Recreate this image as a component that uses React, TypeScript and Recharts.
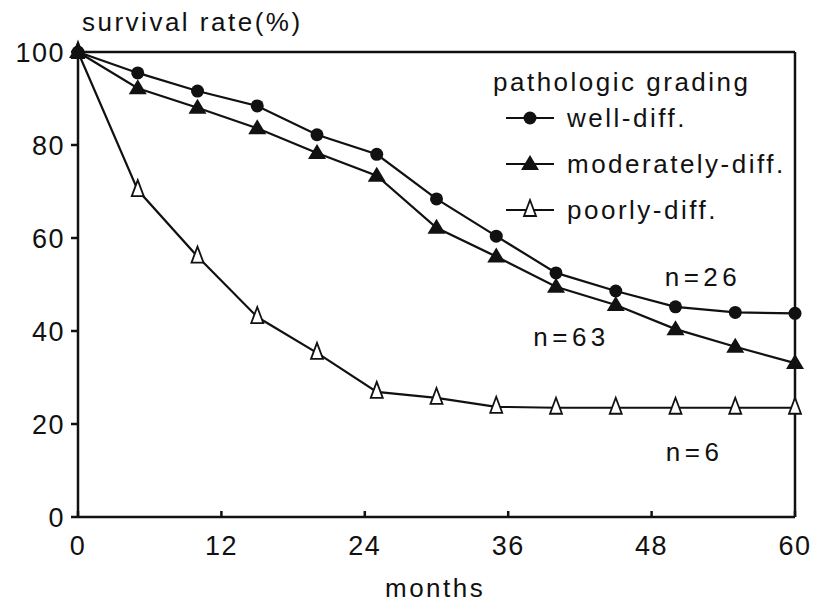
import {
  Line,
  LineChart,
  ReferenceDot,
  ReferenceLine,
  XAxis,
  YAxis,
} from "recharts";

const INK = "#111";
const FONT = "'Liberation Sans', Arial, sans-serif";

const months = [0, 5, 10, 15, 20, 25, 30, 35, 40, 45, 50, 55, 60];
const wellDiff = [100, 95.5, 91.6, 88.4, 82.2, 78, 68.4, 60.4, 52.5, 48.6, 45.2, 44, 43.8];
const moderatelyDiff = [100, 92.2, 88, 83.6, 78.3, 73.4, 62.2, 56, 49.5, 45.6, 40.4, 36.6, 33.1];
const poorlyDiff = [100, 70.3, 56, 43, 35.3, 26.9, 25.6, 23.7, 23.5, 23.5, 23.5, 23.5, 23.5];

const xTicks = [0, 12, 24, 36, 48, 60];
const yTicks = [0, 20, 40, 60, 80, 100];

const seriesNames = ["well-diff.", "moderately-diff.", "poorly-diff."];

// group sizes written next to the curves
const notes = [
  { month: 52.3, value: 51.6, text: "n=26" },
  { month: 41.3, value: 38.7, text: "n=63" },
  { month: 51.6, value: 14, text: "n=6" },
];

const data = months.map((m, i) => ({
  month: m,
  well: wellDiff[i],
  moderate: moderatelyDiff[i],
  poor: poorlyDiff[i],
}));

type DotProps = { cx?: number; cy?: number };

function Circle({ cx, cy }: DotProps) {
  if (cx == null || cy == null) return null;
  return <circle cx={cx} cy={cy} r={6.5} fill={INK} />;
}

function FilledTri({ cx, cy }: DotProps) {
  if (cx == null || cy == null) return null;
  return (
    <path
      d={`M${cx},${cy - 9} L${cx + 9},${cy + 6} L${cx - 9},${cy + 6} Z`}
      fill={INK}
    />
  );
}

function OpenTri({ cx, cy }: DotProps) {
  if (cx == null || cy == null) return null;
  return (
    <path
      d={`M${cx},${cy - 10} L${cx + 6},${cy + 6} L${cx - 6},${cy + 6} Z`}
      fill="#fff"
      stroke={INK}
      strokeWidth={1.8}
    />
  );
}

const markers = [Circle, FilledTri, OpenTri];

const textStyle = {
  fontFamily: FONT,
  color: INK,
  fontSize: 26,
  letterSpacing: 2.5,
  lineHeight: 1,
  whiteSpace: "nowrap" as const,
};

function LegendBox() {
  return (
    <div style={{ ...textStyle, position: "absolute", left: 493, top: 69 }}>
      <div style={{ height: 26 }}>pathologic grading</div>
      {seriesNames.map((name, i) => {
        const M = markers[i];
        return (
          <div
            key={name}
            style={{ display: "flex", alignItems: "center", height: 46 }}
          >
            <svg width={50} height={24} style={{ marginLeft: 13, marginRight: 11 }}>
              <line x1={0} x2={48} y1={12} y2={12} stroke={INK} strokeWidth={2.2} />
              <M cx={24} cy={12} />
            </svg>
            <span>{name}</span>
          </div>
        );
      })}
    </div>
  );
}

export default function App() {
  return (
    <div
      style={{
        position: "absolute",
        left: 0,
        top: 0,
        width: 826,
        height: 604,
        background: "#fff",
        fontFamily: FONT,
      }}
    >
      <LineChart
        width={826}
        height={604}
        data={data}
        margin={{ top: 52, right: 31, bottom: 47, left: 18 }}
      >
        <XAxis
          dataKey="month"
          type="number"
          domain={[0, 60]}
          ticks={xTicks}
          height={40}
          stroke={INK}
          strokeWidth={2.5}
          tickSize={-6}
          tickMargin={25}
          tick={{ fill: INK, fontSize: 27, fontFamily: FONT, letterSpacing: 1.5 }}
        />
        <YAxis
          type="number"
          domain={[0, 100]}
          ticks={yTicks}
          width={60}
          stroke={INK}
          strokeWidth={2.5}
          tickSize={7}
          tickMargin={6}
          tick={{ fill: INK, fontSize: 27, fontFamily: FONT, letterSpacing: 1.5 }}
        />
        <ReferenceLine y={100} stroke={INK} strokeWidth={2.5} />
        <ReferenceLine x={60} stroke={INK} strokeWidth={2.5} />
        <Line
          dataKey="poor"
          stroke={INK}
          strokeWidth={2.2}
          dot={<OpenTri />}
          isAnimationActive={false}
        />
        <Line
          dataKey="moderate"
          stroke={INK}
          strokeWidth={2.2}
          dot={<FilledTri />}
          isAnimationActive={false}
        />
        <Line
          dataKey="well"
          stroke={INK}
          strokeWidth={2.2}
          dot={<Circle />}
          isAnimationActive={false}
        />
        {notes.map((n) => (
          <ReferenceDot
            key={n.text}
            x={n.month}
            y={n.value}
            r={0}
            fill="none"
            stroke="none"
            label={{
              value: n.text,
              position: "center",
              fill: INK,
              fontSize: 26,
              fontFamily: FONT,
              letterSpacing: 4.5,
            }}
          />
        ))}
      </LineChart>
      <div style={{ ...textStyle, position: "absolute", left: 82, top: 9 }}>
        survival rate(%)
      </div>
      <div style={{ ...textStyle, position: "absolute", left: 385, top: 575 }}>
        months
      </div>
      <LegendBox />
    </div>
  );
}
